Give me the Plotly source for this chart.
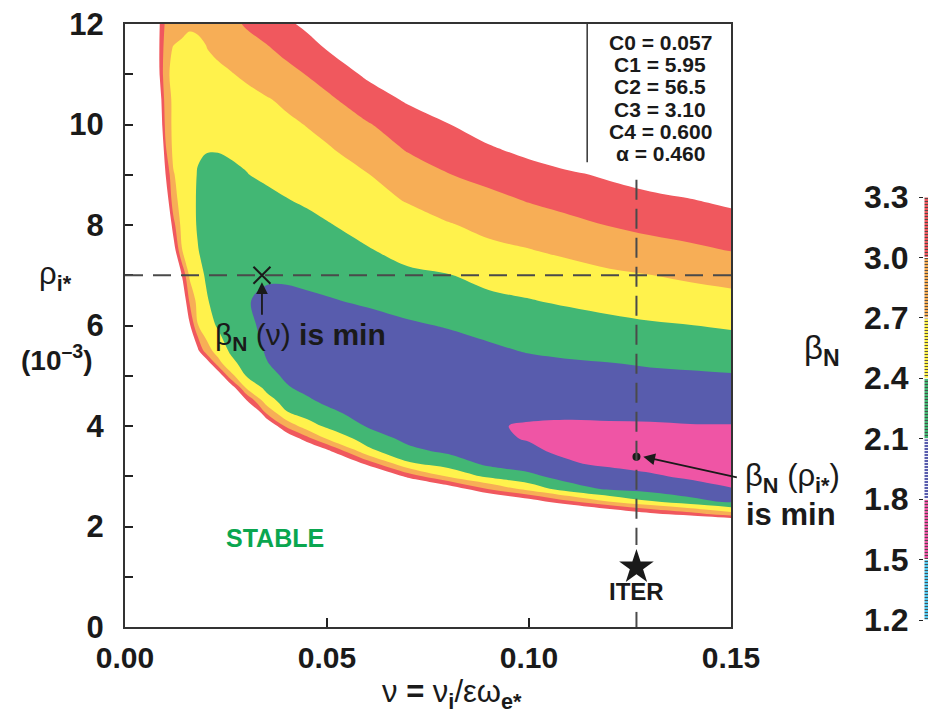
import plotly.graph_objects as go

# ---------------- data ----------------
nu = [0.0, 0.005, 0.008, 0.010, 0.012, 0.014, 0.016, 0.018, 0.020, 0.023, 0.026,
      0.030, 0.035, 0.040, 0.045, 0.050, 0.060, 0.070, 0.080, 0.090, 0.100,
      0.110, 0.120, 0.130, 0.140, 0.150]
rho = [0.0, 1.5, 2.0, 2.25, 2.5, 2.75, 3.0, 3.25, 3.5, 3.75, 4.0, 4.25, 4.5, 4.75,
       5.0, 5.25, 5.5, 6.0, 6.5, 7.0, 7.5, 8.0, 8.5, 9.0, 9.5, 10.0, 10.5, 11.0, 11.5, 12.0]

# beta_N estimated on the (rho, nu) grid; rows follow rho, columns follow nu
# (values above 3.3 are the white, off-scale region)
beta_n = [
    [9] * 26,
    [9, 9, 9, 9, 9, 9, 9, 9, 9, 9, 9, 9, 9, 9, 9, 9, 8.5, 8, 8, 7.5, 7, 7, 6.5, 6, 6.5, 6],
    [9, 9, 9, 9, 9, 9, 9, 9, 9, 9, 9, 9, 9, 8.5, 8.5, 8, 7.5, 7, 6.5, 5.9, 5.5, 5.1, 4.7, 4.4, 4.62, 4.32],
    [9, 9, 9, 9, 9, 9, 9, 9, 9, 9, 9, 9, 8.5, 8, 8, 7.5, 7, 6.1, 5.5, 4.9, 4.5, 4.12, 3.72, 3.38, 3.12, 2.82],
    [9, 9, 9, 9, 9, 9, 9, 9, 9, 9, 9, 8.5, 8, 7.5, 7.5, 7, 6.1, 5.1, 4.5, 3.89, 3.48, 3.04, 2.67, 2.42, 2.2, 2.04],
    [9, 9, 9, 9, 9, 9, 9, 9, 9, 9, 8.5, 8, 7.5, 7, 6.8, 6.4, 5.1, 4.11, 3.55, 2.97, 2.58, 2.23, 2.05, 1.98, 1.9, 1.81],
    [9, 9, 9, 9, 9, 9, 9, 9, 9, 8.5, 8, 7.5, 7, 6.7, 5.8, 5.4, 4.11, 3.19, 2.66, 2.33, 2.17, 1.97, 1.9, 1.83, 1.76, 1.72],
    [9, 9, 9, 9, 9, 9, 9, 9, 8.5, 8, 7.5, 7, 6.5, 5.4, 4.8, 4.4, 3.19, 2.45, 2.27, 2.04, 1.95, 1.82, 1.76, 1.72, 1.69, 1.67],
    [9, 9, 9, 9, 9, 9, 9, 8.5, 8, 7.5, 7, 6.5, 5.4, 4.5, 3.79, 3.39, 2.49, 2.17, 2.05, 1.9, 1.83, 1.76, 1.72, 1.7, 1.69, 1.68],
    [9, 9, 9, 9, 9, 9, 8.5, 8, 7.5, 7.5, 6.8, 6.0, 4.6, 3.65, 3.11, 2.67, 2.25, 2.03, 1.93, 1.83, 1.79, 1.75, 1.74, 1.73, 1.73, 1.73],
    [9, 9, 9, 9, 9, 8.5, 8, 7.5, 7, 7.0, 6.0, 5.2, 3.75, 2.92, 2.53, 2.35, 2.08, 1.95, 1.87, 1.81, 1.79, 1.78, 1.78, 1.78, 1.79, 1.79],
    [9, 9, 9, 8.5, 8, 7.5, 7, 6.8, 6.5, 6.2, 5.2, 4.3, 3.0, 2.43, 2.3, 2.18, 1.98, 1.9, 1.85, 1.82, 1.82, 1.82, 1.83, 1.84, 1.85, 1.86],
    [9, 8.2, 7.5, 7, 6.5, 6.2, 6, 5.8, 5.6, 5.4, 4.4, 3.35, 2.54, 2.27, 2.15, 2.04, 1.92, 1.87, 1.85, 1.84, 1.86, 1.87, 1.89, 1.91, 1.93, 1.94],
    [9, 8, 7, 6.5, 6.2, 5.9, 5.6, 5.3, 5.1, 4.6, 3.62, 2.7, 2.33, 2.13, 2.03, 1.96, 1.89, 1.86, 1.86, 1.87, 1.9, 1.92, 1.95, 1.98, 2.0, 2.01],
    [9, 7.8, 6.6, 6.0, 5.6, 5.3, 5.0, 4.6, 4.4, 3.62, 2.82, 2.39, 2.2, 2.05, 1.97, 1.92, 1.88, 1.87, 1.88, 1.9, 1.94, 1.98, 2.01, 2.04, 2.06, 2.08],
    [9, 7.6, 6.5, 5.8, 5.3, 4.9, 4.5, 4.0, 3.6, 2.82, 2.48, 2.3, 2.11, 2.02, 1.96, 1.92, 1.9, 1.9, 1.93, 1.97, 2.03, 2.07, 2.095, 2.13, 2.15, 2.17],
    [9, 7.5, 6.3, 5.6, 5.0, 4.4, 3.9, 3.38, 2.85, 2.57, 2.37, 2.22, 2.08, 2.0, 1.96, 1.93, 1.92, 1.93, 1.98, 2.05, 2.12, 2.16, 2.19, 2.22, 2.24, 2.26],
    [8, 7.2, 6.0, 5.3, 4.6, 4.0, 3.35, 2.71, 2.53, 2.37, 2.27, 2.14, 2.06, 2.02, 1.99, 1.98, 2.0, 2.06, 2.12, 2.19, 2.25, 2.29, 2.33, 2.37, 2.395, 2.43],
    [8, 7.0, 5.8, 5.0, 4.3, 3.7, 2.95, 2.6, 2.43, 2.3, 2.2, 2.11, 2.07, 2.05, 2.06, 2.08, 2.14, 2.22, 2.29, 2.35, 2.39, 2.44, 2.49, 2.53, 2.57, 2.61],
    [8, 6.8, 5.5, 4.7, 4.0, 3.32, 2.65, 2.48, 2.38, 2.28, 2.2, 2.15, 2.12, 2.13, 2.16, 2.2, 2.28, 2.35, 2.39, 2.47, 2.53, 2.59, 2.65, 2.695, 2.75, 2.8],
    [8, 6.5, 5.2, 4.3, 3.5, 2.72, 2.52, 2.41, 2.33, 2.25, 2.2, 2.17, 2.15, 2.17, 2.22, 2.27, 2.38, 2.49, 2.57, 2.64, 2.69, 2.76, 2.84, 2.9, 2.95, 3.01],
    [8, 6.2, 5.0, 4.0, 3.1, 2.62, 2.49, 2.38, 2.3, 2.24, 2.21, 2.2, 2.22, 2.27, 2.32, 2.38, 2.5, 2.58, 2.68, 2.77, 2.85, 2.93, 3.01, 3.07, 3.12, 3.18],
    [8, 6.0, 4.8, 3.6, 2.8, 2.6, 2.47, 2.38, 2.33, 2.29, 2.27, 2.29, 2.33, 2.39, 2.44, 2.5, 2.6, 2.72, 2.84, 2.92, 3.02, 3.1, 3.18, 3.24, 3.29, 3.36],
    [8, 5.6, 4.5, 3.32, 2.72, 2.58, 2.47, 2.39, 2.35, 2.33, 2.35, 2.39, 2.45, 2.5, 2.56, 2.62, 2.69, 2.85, 2.99, 3.09, 3.17, 3.26, 3.34, 3.42, 3.5, 3.58],
    [8, 5.3, 4.3, 3.05, 2.62, 2.51, 2.45, 2.42, 2.41, 2.41, 2.43, 2.46, 2.51, 2.57, 2.62, 2.67, 2.83, 3.02, 3.14, 3.26, 3.38, 3.5, 3.62, 3.74, 3.85, 3.95],
    [7, 5.0, 3.86, 2.93, 2.62, 2.53, 2.47, 2.44, 2.44, 2.46, 2.49, 2.53, 2.59, 2.65, 2.71, 2.79, 2.98, 3.14, 3.29, 3.45, 3.6, 3.72, 3.84, 3.95, 4.05, 4.15],
    [7, 4.9, 3.74, 2.86, 2.64, 2.56, 2.5, 2.48, 2.49, 2.52, 2.56, 2.61, 2.68, 2.75, 2.83, 2.95, 3.15, 3.34, 3.55, 3.7, 3.8, 3.9, 4.0, 4.1, 4.2, 4.3],
    [6.5, 4.7, 3.5, 2.78, 2.62, 2.57, 2.55, 2.56, 2.58, 2.63, 2.68, 2.75, 2.84, 2.92, 3.01, 3.11, 3.35, 3.6, 3.75, 3.85, 3.95, 4.05, 4.15, 4.25, 4.35, 4.45],
    [6.5, 4.6, 3.45, 2.85, 2.67, 2.63, 2.63, 2.66, 2.69, 2.76, 2.81, 2.88, 2.97, 3.07, 3.18, 3.31, 3.5, 3.65, 3.8, 3.9, 4.0, 4.1, 4.2, 4.3, 4.4, 4.5],
    [6.5, 4.5, 3.45, 2.95, 2.88, 2.8, 2.73, 2.73, 2.75, 2.82, 2.92, 3.03, 3.12, 3.25, 3.36, 3.45, 3.6, 3.75, 3.9, 4.0, 4.1, 4.2, 4.3, 4.4, 4.5, 4.6],
]

levels = [1.2, 1.5, 1.8, 2.1, 2.4, 2.7, 3.0, 3.3]
level_labels = ['1.2', '1.5', '1.8', '2.1', '2.4', '2.7', '3.0', '3.3']
band_colors = ['#55caf0', '#ef55a5', '#585cad', '#42b774', '#fff24c', '#f7ae56', '#f0585e']

consts = ['C0 = 0.057', 'C1 = 5.95', 'C2 = 56.5', 'C3 = 3.10', 'C4 = 0.600', 'α = 0.460']

x_ticks = [0.0, 0.05, 0.10, 0.15]
x_tick_text = ['0.00', '0.05', '0.10', '0.15']
y_ticks = list(range(0, 13))
y_tick_text = [str(v) if v % 2 == 0 else '' for v in y_ticks]

iter_nu = 0.1266
iter_rho = 1.19
nu_min_point = (0.0339, 7.0)
rho_min_point = (0.1266, 3.39)
rho_ref = 7.0

# ---------------- styling ----------------
FONT = "Liberation Sans, Arial, Helvetica, sans-serif"
INK = '#1a1a1a'
W, H = 936, 723
OFF = 8                       # page offset of the figure inside the window
ML, MR, MT, MB = 125 - OFF, OFF, 24 - OFF, 96 + OFF
PW = W - ML - MR              # 811
PH = H - MT - MB              # 603
main_w = 606
X0, YB = 125, 627             # window pixel of plot left edge / bottom edge

cols = [band_colors[0]] + band_colors + ['#ffffff']
n = len(cols) - 1
cscale = []
for k, c in enumerate(cols):
    lo = max(0.0, (k - 0.5) / n)
    hi = min(1.0, (k + 0.5) / n)
    cscale += [[lo, c], [hi, c]]
step = levels[1] - levels[0]

fig = go.Figure()

fig.add_trace(go.Contour(
    x=nu, y=rho, z=beta_n,
    colorscale=cscale, showscale=False, autocontour=False,
    contours=dict(start=levels[0], end=levels[-1], size=step,
                  coloring='fill', showlines=False),
    line=dict(width=0), hoverinfo='skip'))

# colour bar: one striped block per band, on its own small axes
fig.add_trace(go.Bar(
    x=[0] * len(band_colors), y=[b - a for a, b in zip(levels[:-1], levels[1:])],
    base=levels[:-1], width=[1] * len(band_colors),
    marker=dict(color=band_colors, line=dict(width=1, color='white'),
                pattern=dict(shape='-', fillmode='overlay', fgcolor='white',
                             fgopacity=0.9, size=3, solidity=0.34)),
    xaxis='x2', yaxis='y2', hoverinfo='skip'))

fig.add_trace(go.Scatter(x=[nu_min_point[0]], y=[nu_min_point[1]], mode='markers',
                         marker=dict(symbol='x-thin', size=17, line=dict(width=2, color=INK)),
                         hoverinfo='skip'))
fig.add_trace(go.Scatter(x=[rho_min_point[0]], y=[rho_min_point[1]], mode='markers',
                         marker=dict(symbol='circle', size=8, color=INK), hoverinfo='skip'))
fig.add_trace(go.Scatter(x=[iter_nu], y=[iter_rho], mode='markers',
                         marker=dict(symbol='star', size=26, color=INK), hoverinfo='skip'))

shapes = [
    dict(type='line', xref='x', yref='y', x0=0, x1=0.15, y0=rho_ref, y1=rho_ref,
         line=dict(color='#4a4a4a', width=2, dash='18px,10px')),
    dict(type='line', xref='x', yref='y', x0=iter_nu, x1=iter_nu, y0=8.9, y1=1.63,
         line=dict(color='#4a4a4a', width=2, dash='20px,9px')),
    dict(type='line', xref='x', yref='y', x0=iter_nu, x1=iter_nu, y0=0.3, y1=0.0,
         line=dict(color='#4a4a4a', width=2)),
    dict(type='line', xref='x', yref='y', x0=0.1144, x1=0.1144, y0=12, y1=9.25,
         line=dict(color='#333333', width=1.5)),
]


def px2paper(px, py):
    return (px - X0) / PW, (YB - py) / PH


def txt(x, y, text, size, ref='paper', color=INK):
    return dict(x=x, y=y, xref=ref, yref=('y' if ref == 'x' else ref), text=text,
                showarrow=False, xanchor='center', yanchor='middle',
                font=dict(family=FONT, size=size, color=color))


ann = []
for i, t in enumerate(consts):
    ann.append(txt(0.1325, 11.64 - i * 0.445, '<b>' + t + '</b>', 21, ref='x'))

ann.append(txt(0.0372, 1.77, '<b>STABLE</b>', 25, ref='x', color='#0aa64f'))
ann.append(txt(iter_nu, 0.70, '<b>ITER</b>', 24, ref='x'))
ann.append(txt(0.0435, 5.78, 'β<sub><b>N</b></sub> (ν) <b>is min</b>', 30, ref='x'))

ann.append(dict(x=nu_min_point[0], y=6.86, xref='x', yref='y', ax=0, ay=34, text='',
                showarrow=True, arrowhead=2, arrowsize=1.3, arrowwidth=1.8, arrowcolor=INK))
ann.append(dict(x=0.1283, y=rho_min_point[1], xref='x', yref='y', ax=95, ay=21, text='',
                showarrow=True, arrowhead=2, arrowsize=1.3, arrowwidth=1.8, arrowcolor=INK))

ann.append(txt(*px2paper(792, 478), 'β<sub><b>N</b></sub> (ρ<sub><b>i*</b></sub>)', 31))
ann.append(txt(*px2paper(791, 514), '<b>is min</b>', 31))
ann.append(txt(*px2paper(822, 350), 'β<sub><b>N</b></sub>', 33))
ann.append(txt(*px2paper(55, 276), 'ρ<sub><b>i*</b></sub>', 31))
ann.append(txt(*px2paper(57, 358), '<b>(10<sup>–3</sup>)</b>', 28))
ann.append(txt(*px2paper(452, 694), 'ν <b>=</b> ν<sub><b>i</b></sub>/εω<sub><b>e*</b></sub>', 31))

tick_font = dict(family=FONT, size=30, color=INK, weight='bold')

fig.update_layout(
    width=W, height=H, margin=dict(l=ML, r=MR, t=MT, b=MB, autoexpand=False),
    paper_bgcolor='white', plot_bgcolor='white', showlegend=False, barmode='overlay',
    shapes=shapes, annotations=ann,
    xaxis=dict(domain=[0, main_w / PW], range=[0, 0.15], tickvals=x_ticks, ticktext=x_tick_text,
               ticks='inside', ticklen=9, tickwidth=1.5, tickcolor='#222', showline=True,
               linecolor='#333', linewidth=2, mirror=True, showgrid=False, zeroline=False,
               tickfont=tick_font, ticklabelstandoff=3, automargin=False,
               ticklabeloverflow='allow'),
    yaxis=dict(domain=[0, 1], range=[0, 12], tickvals=y_ticks, ticktext=y_tick_text,
               ticks='inside', ticklen=8, tickwidth=1.5, tickcolor='#222', showline=True,
               linecolor='#333', linewidth=2, mirror=True, showgrid=False, zeroline=False,
               tickfont=dict(family=FONT, size=31, color=INK, weight='bold'),
               ticklabelstandoff=13, automargin=False, ticklabeloverflow='allow'),
    xaxis2=dict(domain=[(924 - X0) / PW, 1.0], range=[-0.5, 0.5], anchor='y2', visible=False,
                fixedrange=True),
    yaxis2=dict(domain=[(YB - 620) / PH, (YB - 197) / PH], range=[levels[0], levels[-1]],
                anchor='x2', side='left', tickvals=levels, ticktext=level_labels,
                ticks='outside', ticklen=4, tickcolor='#222', showline=False, showgrid=False,
                zeroline=False, tickfont=dict(family=FONT, size=32, color=INK, weight='bold'),
                ticklabelstandoff=4, automargin=False, ticklabeloverflow='allow'),
)

fig.write_html("out.html")
